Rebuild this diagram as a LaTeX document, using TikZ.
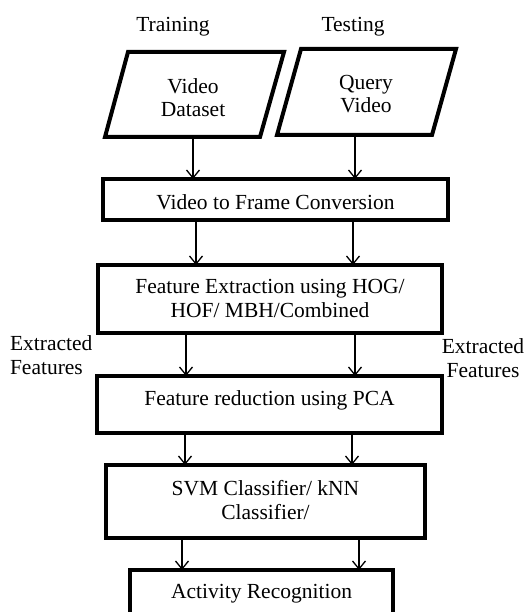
\documentclass[tikz,border=0pt]{standalone}
\usepackage{fontspec}
\setmainfont{Liberation Serif}
\usetikzlibrary{arrows.meta}
\begin{document}
\begin{tikzpicture}[x=1pt,y=-1pt,
  every node/.style={font=\fontsize{21.5}{23.5}\selectfont, inner sep=0pt, outer sep=0pt},
  txt/.style={anchor=base, align=center},
  stagebox/.style={draw, line width=4pt, minimum width=#1},
  frame/.style={draw, line width=4pt, line join=miter},
  flow/.style={draw, line width=1.3pt, -{Straight Barb[length=8pt,width=13pt,line width=1.3pt]}}
]
\useasboundingbox (0,0) rectangle (529,612);

% column labels
\node[txt] (train) at (173,32) {Training};
\node[txt] (test) at (353,32) {Testing};

% input parallelograms
\draw[frame] (105,137) -- (128,52) -- (284,52) -- (260,137) -- cycle;
\node[txt] (vd) at (193,117) {Video\\Dataset};
\draw[frame] (277,135) -- (301,49) -- (456,49) -- (432,135) -- cycle;
\node[txt] (qv) at (366,113) {Query\\Video};
\coordinate (pA) at (193,139);
\coordinate (pB) at (355,137);

% processing stages
\node[stagebox=345pt, minimum height=41pt] (b1) at (275.5,199.5) {};
\node[stagebox=344pt, minimum height=68pt] (b2) at (270,299) {};
\node[stagebox=345pt, minimum height=57pt] (b3) at (269.5,404.5) {};
\node[stagebox=319pt, minimum height=73pt] (b4) at (265.5,501.5) {};
\node[stagebox=263pt, minimum height=60pt] (b5) at (261.5,600) {};

\node[txt] (t1) at (275.5,209) {Video to Frame Conversion};
\node[txt] (t2) at (270,317) {Feature Extraction using HOG/\\HOF/ MBH/Combined};
\node[txt] (t3) at (269.5,405) {Feature reduction using PCA};
\node[txt] (t4) at (265.5,519) {SVM Classifier/ kNN\\Classifier/};
\node[txt] (t5) at (261.5,598) {Activity Recognition};

% side labels
\node[anchor=base west, align=left] (efl) at (10,374) {Extracted\\Features};
\node[txt] (efr) at (483,377) {Extracted\\Features};

% arrow columns
\coordinate (c1) at (196,0);  \coordinate (c2) at (353,0);
\coordinate (c3) at (186,0);  \coordinate (c4) at (355,0);
\coordinate (c5) at (185,0);  \coordinate (c6) at (352,0);
\coordinate (c7) at (182,0);  \coordinate (c8) at (359,0);

% connectors
\draw[flow] (pA) -- (b1.north -| pA);
\draw[flow] (pB) -- (b1.north -| pB);
\draw[flow] (b1.south -| c1) -- (b2.north -| c1);
\draw[flow] (b1.south -| c2) -- (b2.north -| c2);
\draw[flow] (b2.south -| c3) -- (b3.north -| c3);
\draw[flow] (b2.south -| c4) -- (b3.north -| c4);
\draw[flow] (b3.south -| c5) -- (b4.north -| c5);
\draw[flow] (b3.south -| c6) -- (b4.north -| c6);
\draw[flow] (b4.south -| c7) -- (b5.north -| c7);
\draw[flow] (b4.south -| c8) -- (b5.north -| c8);
\end{tikzpicture}
\end{document}
